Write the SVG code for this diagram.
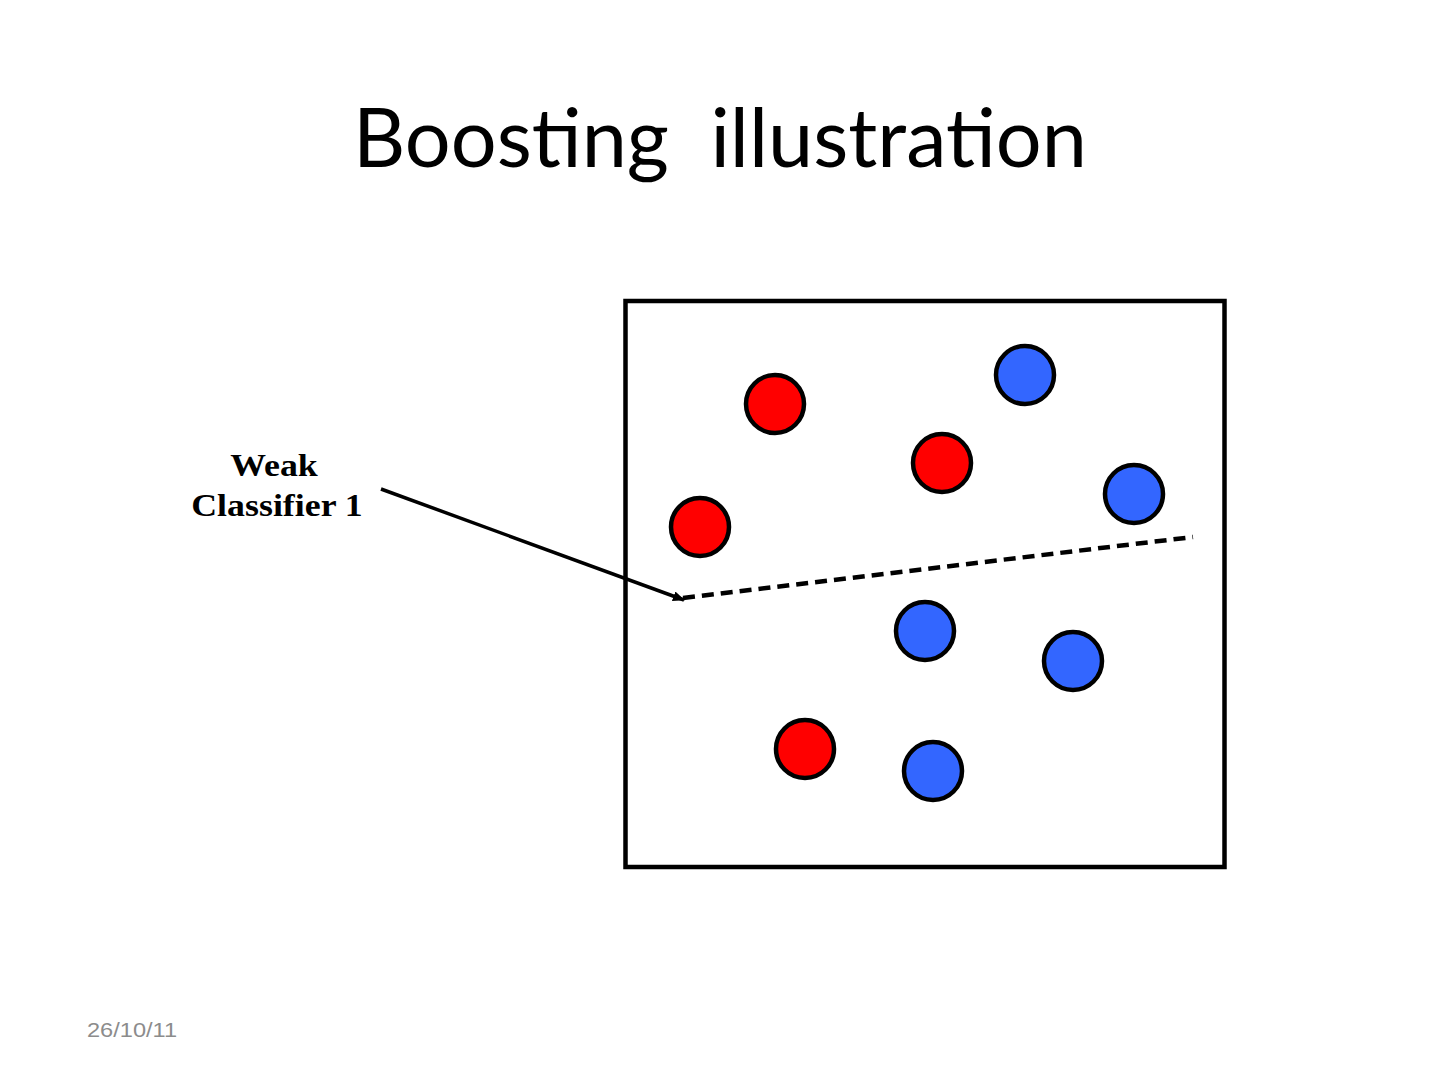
<svg xmlns="http://www.w3.org/2000/svg" width="1440" height="1080" viewBox="0 0 1440 1080">
<style>
.title{font-family:Lato,"Open Sans","Liberation Sans",sans-serif;font-size:81px;fill:#000}
.lbl{font-family:"Liberation Serif",serif;font-weight:bold;font-size:32px;fill:#000}
.date{font-family:"Liberation Sans",sans-serif;font-size:20px;fill:#8c8c8c}
.red{fill:#ff0000;stroke:#000;stroke-width:4.5}
.blue{fill:#3366ff;stroke:#000;stroke-width:4.5}
</style>
<defs>
<marker id="ah" markerWidth="12" markerHeight="10" refX="11" refY="5" orient="auto" markerUnits="userSpaceOnUse">
<path d="M0,0 L12,5 L0,10 Z" fill="#000"/>
</marker>
</defs>
<rect width="1440" height="1080" fill="#fff"/>
<text class="title" x="720" y="167" text-anchor="middle" xml:space="preserve">Boosting  illustration</text>
<g id="box"><rect x="625.5" y="301" width="599" height="566" fill="none" stroke="#000" stroke-width="4.5"/></g>
<g id="points">
<circle id="r1" class="red" cx="775" cy="404" r="29"/>
<circle id="b1" class="blue" cx="1025" cy="375" r="29"/>
<circle id="r2" class="red" cx="942" cy="463" r="29"/>
<circle id="b2" class="blue" cx="1134" cy="494" r="29"/>
<circle id="r3" class="red" cx="700" cy="527" r="29"/>
<circle id="b3" class="blue" cx="925" cy="631" r="29"/>
<circle id="b4" class="blue" cx="1073" cy="661" r="29"/>
<circle id="r4" class="red" cx="805" cy="749" r="29"/>
<circle id="b5" class="blue" cx="933" cy="771" r="29"/>
</g>
<g id="label">
<text class="lbl" transform="translate(274 476) scale(1.12 1)" text-anchor="middle">Weak</text>
<text class="lbl" transform="translate(277 516) scale(1.12 1)" text-anchor="middle">Classifier 1</text>
</g>
<g id="connectors">
<line id="boundary" x1="683" y1="598" x2="1193" y2="537" stroke="#000" stroke-width="4.5" stroke-dasharray="12,7"/>
<line id="arrow" x1="381" y1="489" x2="684" y2="600" stroke="#000" stroke-width="3.5" marker-end="url(#ah)"/>
</g>
<text class="date" transform="translate(87 1037) scale(1.18 1)">26/10/11</text>
</svg>
